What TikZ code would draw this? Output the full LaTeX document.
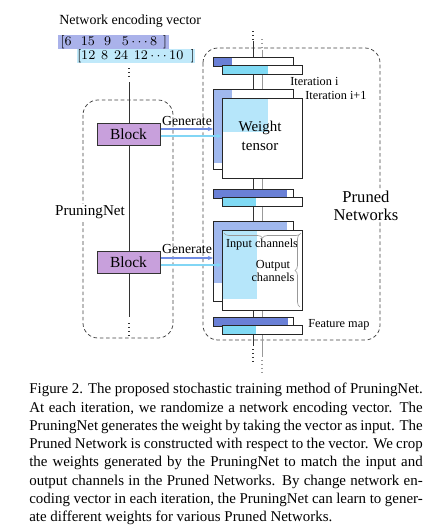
\documentclass[tikz,border=0pt]{standalone}
\usepackage{fontspec}
\setmainfont{Liberation Serif}
\usetikzlibrary{arrows.meta,calc,decorations.pathreplacing}
\definecolor{vecblue}{RGB}{170,178,234}
\definecolor{veccyan}{RGB}{192,233,250}
\definecolor{fmblue}{RGB}{106,128,214}
\definecolor{fmcyan}{RGB}{128,218,244}
\definecolor{wblue}{RGB}{160,184,238}
\definecolor{wcyan}{RGB}{182,230,250}
\definecolor{blockpurple}{RGB}{200,160,220}
\definecolor{genblue}{RGB}{112,140,228}
\definecolor{gencyan}{RGB}{130,214,245}
\newcommand\pxu{0.6024pt}

\begin{document}
\begin{tikzpicture}[x=\pxu,y=-\pxu,
  lbl/.style={inner sep=0pt,font=\fontsize{7.4}{8.4}\selectfont},
  dashbox/.style={draw=black!75,dash pattern=on 2.2pt off 1.6pt,line width=0.45pt,rounded corners=9pt},
  block/.style={draw=black!80,fill=blockpurple,line width=0.6pt,minimum width=63*\pxu,minimum height=22*\pxu,inner sep=0pt,font=\fontsize{9.3}{10}\selectfont},
  fmbar/.style={draw=black!85,fill=white,line width=0.6pt,minimum width=80*\pxu,minimum height=8.5*\pxu,inner sep=0pt,anchor=north west},
  wsq/.style={draw=black!85,fill=white,line width=0.6pt,minimum width=80*\pxu,minimum height=80*\pxu,inner sep=0pt,anchor=north west},
  part/.style n args={3}{path picture={\fill[#1] (path picture bounding box.north west) rectangle ([shift={(#2,#3)}]path picture bounding box.north west);}},
  gen/.style={-{Stealth[length=3.2pt,width=2.6pt]},line width=0.9pt},
  spine/.style={line width=0.5pt},
  dots/.style={line width=0.8pt,dash pattern=on 0.8pt off 1.6pt}]
  \useasboundingbox (0,0) rectangle (432,529);

  % encoding vector
  \node[anchor=west,inner sep=0pt,font=\fontsize{8.4}{9}\selectfont] (title) at (59,21) {Network encoding vector};
  \node[anchor=north west,fill=vecblue,inner sep=0pt,minimum width=111*\pxu,minimum height=13*\pxu,font=\fontsize{8}{8.5}\selectfont] (vec1) at (58,35) {$[6\hspace{5.5pt}15\hspace{5.5pt}9\hspace{6.5pt}5\cdots 8\hspace{3.5pt}]$};
  \node[anchor=north west,fill=veccyan,inner sep=0pt,minimum width=112*\pxu,minimum height=13*\pxu,font=\fontsize{8}{8.5}\selectfont] (vec2) at (77,49) {$[12\hspace{3.5pt}8\hspace{3.5pt}24\hspace{3.5pt}12\cdots 10\hspace{4.5pt}]$};

  % PruningNet
  \draw[dashbox] (83,100) rectangle (173,338);
  \coordinate (pntop) at (129,82);
  \coordinate (pnbot) at (129,317);
  \draw[spine,black!80] (pntop) -- (pnbot);
  \draw[dots,black!80] (129,68) -- (129,79);
  \draw[dots,black!80] (129,323) -- (129,336);
  \node[block] (block1) at (128.5,134) {Block};
  \node[block] (block2) at (128.5,262) {Block};
  \node[fill=white,inner sep=1pt,font=\fontsize{9.1}{10}\selectfont] (pnlabel) at (90,212) {PruningNet};

  % Pruned Networks
  \draw[dashbox] (203,48) rectangle (380,340);
  \node[fill=white,inner sep=1pt,align=center,font=\fontsize{10}{10.8}\selectfont] (pnet) at (366,206) {Pruned\\Networks};
  \coordinate (satop) at (253,41);
  \coordinate (sabot) at (253,346);
  \coordinate (sbtop) at (262,50);
  \coordinate (sbbot) at (262,357);
  \draw[spine,black!80] (satop) -- (sabot);
  \draw[spine,black!40] (sbtop) -- (sbbot);
  \draw[dots,black!80] (253,31) -- (253,41);
  \draw[dots,black!80] (253,349) -- (253,362);
  \draw[dots,black!40] (262,39) -- (262,50);
  \draw[dots,black!40] (262,360) -- (262,372);

  \node[fmbar,part={fmblue}{18}{8.5}] (fm1a) at (213,57) {};
  \node[fmbar,part={fmcyan}{45}{8.5}] (fm1b) at (222,65) {};
  \node[wsq,part={wblue}{18}{73}] (w1a) at (213,89) {};
  \node[wsq,part={wcyan}{45}{34}] (w1b) at (222,98) {};
  \node[inner sep=0pt,align=center,font=\fontsize{9}{11.4}\selectfont] (w1txt) at (260,136) {Weight\\tensor};
  \node[fmbar,part={fmblue}{73}{8.5}] (fm2a) at (213,189) {};
  \node[fmbar,part={fmcyan}{33}{8.5}] (fm2b) at (222,197) {};
  \node[wsq,part={wblue}{73}{61}] (w2a) at (213,221) {};
  \node[wsq,part={wcyan}{34}{68}] (w2b) at (222,230) {};
  \node[fmbar,part={fmblue}{74}{8.5}] (fm3a) at (213,317) {};
  \node[fmbar,part={fmcyan}{33}{8.5}] (fm3b) at (222,325) {};

  \node[lbl,anchor=west] (iti) at (290,81) {Iteration i};
  \node[lbl,anchor=west] (itj) at (305,95) {Iteration i+1};
  \node[lbl,anchor=west] (fmlbl) at (308,325) {Feature map};
  \node[lbl] (inch) at (262,245) {Input channels};
  \node[lbl,align=center] (outch) at (273,271) {Output\\channels};
  \draw[black!40,decorate,decoration={brace,amplitude=3pt}] ($(w2b.north east)+(-2,3)$) -- ($(w2b.north west)+(2,3)$);
  \draw[black!40,decorate,decoration={brace,amplitude=3pt}] ($(w2b.south east)+(-3,-4)$) -- ($(w2b.north east)+(-3,4)$);

  % generate
  \draw[gen,genblue] ($(block1.east)+(0,-5)$) -- ($(block1.east -| w1a.west)+(0,-5)$);
  \draw[gen,gencyan] ($(block1.east)+(0,2)$) -- ($(block1.east -| w1b.west)+(0,2)$);
  \draw[gen,genblue] ($(block2.east)+(0,-4)$) -- ($(block2.east -| w2a.west)+(0,-4)$);
  \draw[gen,gencyan] ($(block2.east)+(0,3)$) -- ($(block2.east -| w2b.west)+(0,3)$);
  \node[inner sep=0pt,font=\fontsize{8.3}{9}\selectfont] (gen1) at (187,121) {Generate};
  \node[inner sep=0pt,font=\fontsize{8.3}{9}\selectfont] (gen2) at (187,249) {Generate};

  % caption
  \node[anchor=north west,inner sep=0pt,text width=237pt,align=justify,font=\fontsize{9}{11}\selectfont] (caption) at (29,383) {\noindent Figure 2. The proposed stochastic training method of PruningNet.\linebreak
At each iteration, we randomize a network encoding vector. The\linebreak
PruningNet generates the weight by taking the vector as input. The\linebreak
Pruned Network is constructed with respect to the vector. We crop\linebreak
the weights generated by the PruningNet to match the input and\linebreak
output channels in the Pruned Networks. By change network en-\linebreak
coding vector in each iteration, the PruningNet can learn to gener-\linebreak
ate different weights for various Pruned Networks.};
\end{tikzpicture}
\end{document}
